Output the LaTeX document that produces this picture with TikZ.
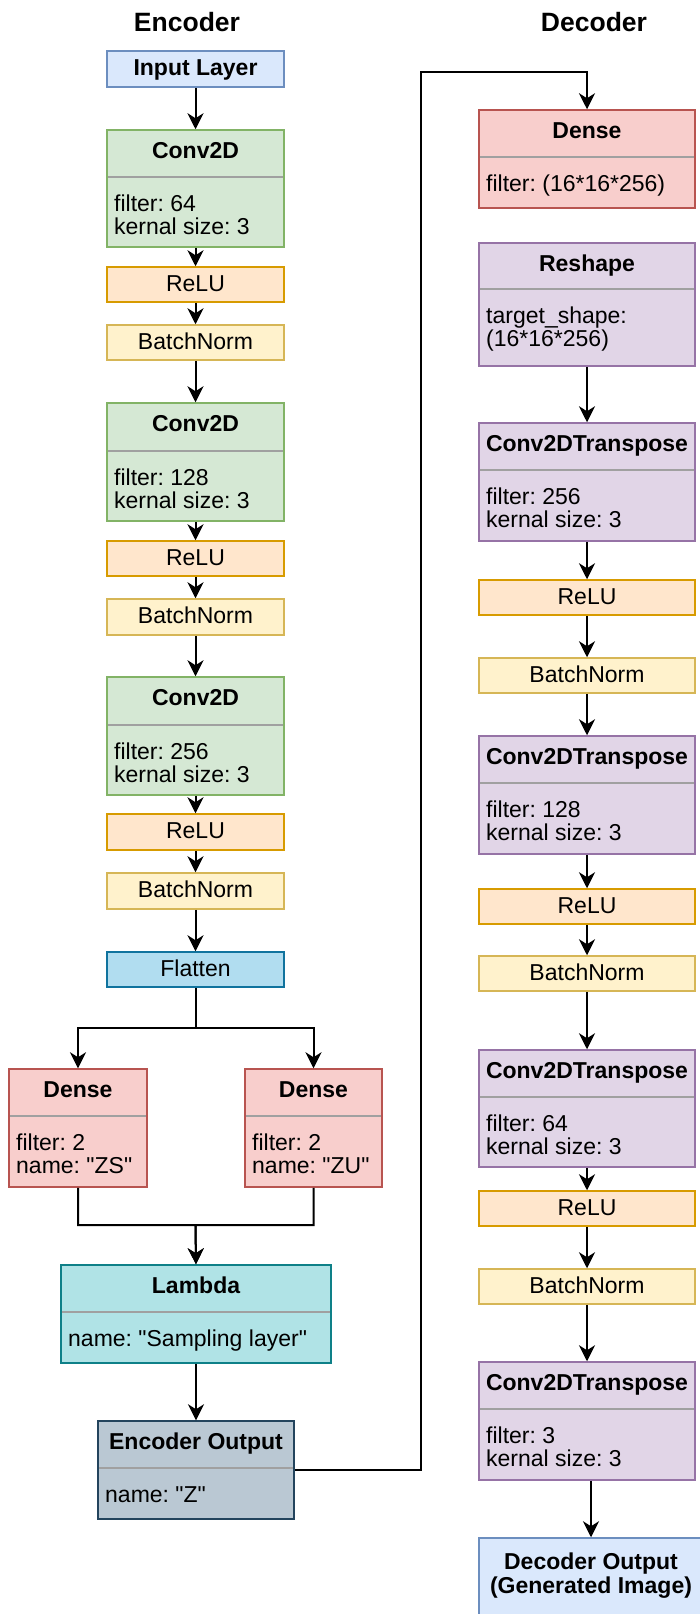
\documentclass[tikz,border=0pt]{standalone}
\usepackage{fontspec}
\setmainfont{Liberation Sans}[Ligatures=TeXOff]
\usetikzlibrary{arrows.meta}
\frenchspacing
\definecolor{inpfill}{HTML}{DAE8FC}\definecolor{inpdraw}{HTML}{6C8EBF}
\definecolor{convfill}{HTML}{D5E8D4}\definecolor{convdraw}{HTML}{82B366}
\definecolor{relufill}{HTML}{FFE6CC}\definecolor{reludraw}{HTML}{D79B00}
\definecolor{bnfill}{HTML}{FFF2CC}\definecolor{bndraw}{HTML}{D6B656}
\definecolor{flatfill}{HTML}{B1DDF0}\definecolor{flatdraw}{HTML}{10739E}
\definecolor{densefill}{HTML}{F8CECC}\definecolor{densedraw}{HTML}{B85450}
\definecolor{lamfill}{HTML}{B0E3E6}\definecolor{lamdraw}{HTML}{0E8088}
\definecolor{eofill}{HTML}{BAC8D3}\definecolor{eodraw}{HTML}{23445D}
\definecolor{purfill}{HTML}{E1D5E7}\definecolor{purdraw}{HTML}{9673A6}
\definecolor{sepgray}{HTML}{A0A0A0}
\newcommand\titlefnt{\fontsize{23}{23}\selectfont\bfseries}
\newcommand\bodyfnt{\fontsize{23}{23}\selectfont}
\newcommand\headfnt{\fontsize{26.5}{28}\selectfont\bfseries}
\newcommand\twoline[2]{\vtop{\hbox{#1}\hbox{#2}}}
\tikzset{
  box/.style={draw, line width=1.5pt, inner sep=0pt},
  inputc/.style={box, fill=inpfill, draw=inpdraw},
  convc/.style={box, fill=convfill, draw=convdraw},
  reluc/.style={box, fill=relufill, draw=reludraw},
  bnc/.style={box, fill=bnfill, draw=bndraw},
  flatc/.style={box, fill=flatfill, draw=flatdraw},
  densec/.style={box, fill=densefill, draw=densedraw},
  lamc/.style={box, fill=lamfill, draw=lamdraw},
  eoc/.style={box, fill=eofill, draw=eodraw},
  purc/.style={box, fill=purfill, draw=purdraw},
  sepline/.style={draw=sepgray, line width=1.5pt},
  arr/.style={draw=black, line width=2pt, -{Stealth[length=16pt,width=16pt,inset=5pt]}},
  titletext/.style={font=\titlefnt, inner sep=0pt},
  bodytext/.style={font=\bodyfnt, inner sep=0pt},
  headtext/.style={font=\headfnt, inner sep=0pt},
}
% name, style, x1, y1, x2, y2, sep, title, body
\newcommand\ubox[9]{%
  \node[#2, minimum width={(#5-#3)*1pt}, minimum height={(#6-#4)*1pt}] (#1) at ({(#3+#5)/2},{(#4+#6)/2}) {};
  \draw[sepline] (#3+1,#7) -- (#5-1,#7);
  \node[titletext, anchor=base] (#1-t) at ({(#3+#5)/2},#4+28) {#8};
  \node[bodytext, anchor=base west] (#1-b) at (#3+7,#7+34) {#9};
}
% name, style, x1, y1, x2, y2, text
\newcommand\lbox[7]{%
  \node[#2, minimum width={(#5-#3)*1pt}, minimum height={(#6-#4)*1pt}, text height=15pt, text depth=2pt] (#1) at ({(#3+#5)/2},{(#4+#6)/2}) {#7};
}
\begin{document}
\begin{tikzpicture}[x=1pt,y=-1pt]
\clip (0,0) rectangle (700,1614);
\fill[white] (0,0) rectangle (700,1614);

% headings
\node[headtext, anchor=base] (henc) at (187,31) {Encoder};
\node[headtext, anchor=base] (hdec) at (594,31) {Decoder};

% ---------- Encoder ----------
\lbox{inp}{inputc, font=\titlefnt}{107}{51}{284}{87}{Input Layer}
\ubox{c1}{convc}{107}{130}{284}{247}{177}{Conv2D}{\twoline{filter: 64}{kernal size: 3}}
\lbox{r1}{reluc, font=\bodyfnt}{107}{267}{284}{302}{ReLU}
\lbox{b1}{bnc, font=\bodyfnt}{107}{325}{284}{360}{BatchNorm}
\ubox{c2}{convc}{107}{403}{284}{521}{451}{Conv2D}{\twoline{filter: 128}{kernal size: 3}}
\lbox{r2}{reluc, font=\bodyfnt}{107}{541}{284}{576}{ReLU}
\lbox{b2}{bnc, font=\bodyfnt}{107}{599}{284}{635}{BatchNorm}
\ubox{c3}{convc}{107}{677}{284}{795}{725}{Conv2D}{\twoline{filter: 256}{kernal size: 3}}
\lbox{r3}{reluc, font=\bodyfnt}{107}{814}{284}{850}{ReLU}
\lbox{b3}{bnc, font=\bodyfnt}{107}{873}{284}{909}{BatchNorm}
\lbox{fl}{flatc, font=\bodyfnt}{107}{952}{284}{987}{Flatten}
\ubox{dl}{densec}{9}{1069}{147}{1187}{1116}{Dense}{\twoline{filter: 2}{name: "ZS"}}
\ubox{dr}{densec}{245}{1069}{382}{1187}{1116}{Dense}{\twoline{filter: 2}{name: "ZU"}}
\ubox{lam}{lamc}{61}{1265}{331}{1363}{1312}{Lambda}{name: "Sampling layer"}
\ubox{eo}{eoc}{98}{1421}{294}{1519}{1468}{Encoder Output}{name: "Z"}

% ---------- Decoder ----------
\ubox{dd}{densec}{479}{110}{695}{208}{157}{Dense}{filter: (16*16*256)}
\ubox{rs}{purc}{479}{243}{695}{366}{289}{Reshape}{\twoline{target\_shape:}{(16*16*256)}}
\ubox{t1}{purc}{479}{423}{695}{541}{470}{Conv2DTranspose}{\twoline{filter: 256}{kernal size: 3}}
\lbox{dr1}{reluc, font=\bodyfnt}{479}{580}{695}{615}{ReLU}
\lbox{db1}{bnc, font=\bodyfnt}{479}{658}{695}{693}{BatchNorm}
\ubox{t2}{purc}{479}{736}{695}{854}{783}{Conv2DTranspose}{\twoline{filter: 128}{kernal size: 3}}
\lbox{dr2}{reluc, font=\bodyfnt}{479}{889}{695}{924}{ReLU}
\lbox{db2}{bnc, font=\bodyfnt}{479}{956}{695}{991}{BatchNorm}
\ubox{t3}{purc}{479}{1050}{695}{1167}{1097}{Conv2DTranspose}{\twoline{filter: 64}{kernal size: 3}}
\lbox{dr3}{reluc, font=\bodyfnt}{479}{1191}{695}{1226}{ReLU}
\lbox{db3}{bnc, font=\bodyfnt}{479}{1269}{695}{1304}{BatchNorm}
\ubox{t4}{purc}{479}{1362}{695}{1480}{1409}{Conv2DTranspose}{\twoline{filter: 3}{kernal size: 3}}
\node[inputc, minimum width=224pt, minimum height=102pt] (do) at (591,1589) {};
\node[titletext, anchor=base] (do-t1) at (591,1569) {Decoder Output};
\node[titletext, anchor=base] (do-t2) at (591,1593) {(Generated Image)};

% ---------- Encoder connectors ----------
\draw[arr] (inp.south) -- (c1.north);
\draw[arr] (c1.south) -- (r1.north);
\draw[arr] (r1.south) -- (b1.north);
\draw[arr] (b1.south) -- (c2.north);
\draw[arr] (c2.south) -- (r2.north);
\draw[arr] (r2.south) -- (b2.north);
\draw[arr] (b2.south) -- (c3.north);
\draw[arr] (c3.south) -- (r3.north);
\draw[arr] (r3.south) -- (b3.north);
\draw[arr] (b3.south) -- (fl.north);
\coordinate (split) at (195.5,1028);
\draw[arr] (fl.south) -- (split) -| (dl.north);
\draw[arr] (fl.south) -- (split) -| (dr.north);
\coordinate (merge) at (195.5,1225);
\draw[arr] (dl.south) |- (merge) -- (lam.north);
\draw[arr] (dr.south) |- (merge) -- (lam.north);
\draw[arr] (lam.south) -- (eo.north);

% ---------- Encoder -> Decoder ----------
\coordinate (k1) at (421,1470);
\coordinate (k2) at (421,72);
\draw[arr] (eo.east) -- (k1) -- (k2) -| (dd.north);

% ---------- Decoder connectors ----------
\draw[arr] (rs.south) -- (t1.north);
\draw[arr] (t1.south) -- (dr1.north);
\draw[arr] (dr1.south) -- (db1.north);
\draw[arr] (db1.south) -- (t2.north);
\draw[arr] (t2.south) -- (dr2.north);
\draw[arr] (dr2.south) -- (db2.north);
\draw[arr] (db2.south) -- (t3.north);
\draw[arr] (t3.south) -- (dr3.north);
\draw[arr] (dr3.south) -- (db3.north);
\draw[arr] (db3.south) -- (t4.north);
\draw[arr] (do.north |- t4.south) -- (do.north);
\end{tikzpicture}
\end{document}
